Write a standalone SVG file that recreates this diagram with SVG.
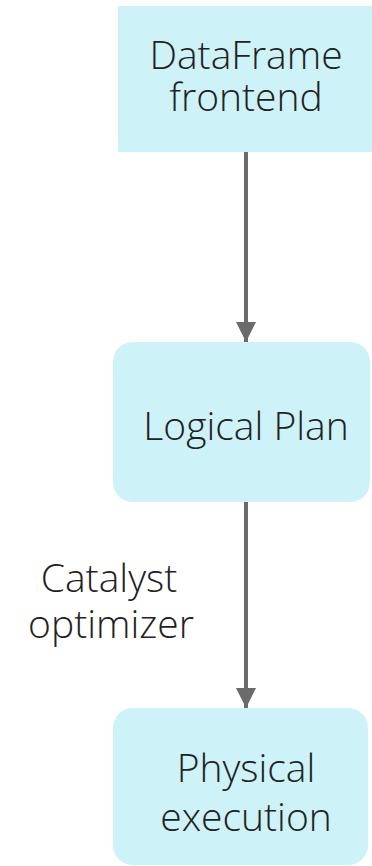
<svg xmlns="http://www.w3.org/2000/svg" width="372" height="866" viewBox="0 0 372 866">
  <style>
    .box { fill: #cdf2f7; }
    .label { font-family: "Open Sans", "Liberation Sans", sans-serif; font-size: 39px; fill: #222; text-anchor: middle; font-weight: 300; }
    .edge { stroke: #6b6b6b; stroke-width: 4; fill: none; }
  </style>
  <defs>
    <marker id="arrow" markerWidth="5" markerHeight="5" refX="5" refY="2.5" orient="auto" markerUnits="strokeWidth">
      <path d="M0,0 L5,2.5 L0,5 Z" fill="#6b6b6b"/>
    </marker>
  </defs>
  <rect width="372" height="866" fill="#ffffff"/>

  <g id="connectors">
    <line class="edge" x1="246" y1="152" x2="246" y2="342" marker-end="url(#arrow)"/>
    <line class="edge" x1="246" y1="502" x2="246" y2="708" marker-end="url(#arrow)"/>
    <text class="label" x="109" y="592">Catalyst</text>
    <text class="label" x="111" y="638">optimizer</text>
  </g>

  <g id="dataframe-frontend">
    <rect class="box" x="118" y="6" width="260" height="146"/>
    <text class="label" x="246" y="69">DataFrame</text>
    <text class="label" x="246" y="111">frontend</text>
  </g>

  <g id="logical-plan">
    <rect class="box" x="113" y="342" width="257" height="160" rx="20"/>
    <text class="label" x="246" y="440">Logical Plan</text>
  </g>

  <g id="physical-execution">
    <rect class="box" x="113" y="708" width="255" height="157" rx="20"/>
    <text class="label" x="246" y="782">Physical</text>
    <text class="label" x="246" y="831">execution</text>
  </g>
</svg>
